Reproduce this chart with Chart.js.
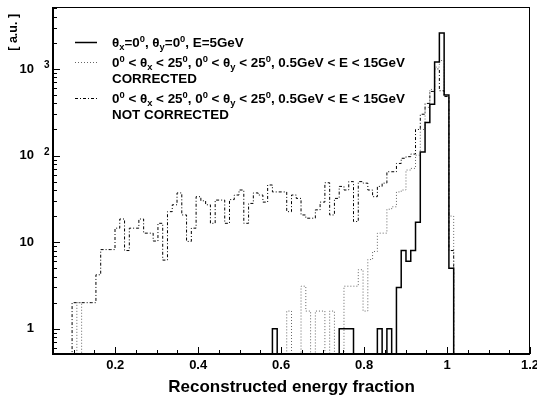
<!DOCTYPE html>
<html>
<head>
<meta charset="utf-8">
<script src="https://cdn.jsdelivr.net/npm/chart.js@4.4.0/dist/chart.umd.min.js"></script>
<style>
html, body { margin: 0; padding: 0; background: #fff; }
</style>
</head>
<body>
<canvas id="mycanvas" width="537" height="397"></canvas>
<script>
// histogram binning (as in the ROOT TH1: 100 bins from 0.05 to 1.2)
var histMin = 0.05;
var histMax = 1.2;
var nBins = 100;

// theta_x = theta_y = 0, E = 5 GeV
var solidCounts = [
	0, 0, 0, 0, 0, 0, 0, 0, 0, 0,
	0, 0, 0, 0, 0, 0, 0, 0, 0, 0,
	0, 0, 0, 0, 0, 0, 0, 0, 0, 0,
	0, 0, 0, 0, 0, 0, 0, 0, 0, 0,
	0, 0, 0, 0, 0, 0, 1, 0, 0, 0,
	0, 0, 0, 0, 0, 0, 0, 0, 0, 0,
	1, 1, 1, 0, 0, 0, 0, 0, 1, 0,
	1, 0, 3, 8, 6, 8, 17, 110, 240, 390,
	1200, 2600, 500, 5, 0, 0, 0, 0, 0, 0,
	0, 0, 0, 0, 0, 0, 0, 0, 0, 0
];

// random angles, CORRECTED
var correctedCounts = [
	0, 0, 0, 0, 0, 2, 0, 0, 0, 0,
	0, 0, 0, 0, 0, 0, 0, 0, 0, 0,
	0, 0, 0, 0, 0, 0, 0, 0, 0, 0,
	0, 0, 0, 0, 0, 0, 0, 0, 0, 0,
	0, 0, 0, 0, 0, 0, 0, 0, 0, 1.6,
	0, 0, 3.1, 1.6, 0, 1.6, 1.6, 0, 1.6, 0,
	0, 3.1, 3.1, 3.1, 4.8, 1.6, 6.3, 7.8, 12.7, 12.7,
	24, 25.6, 38, 40, 68, 71, 101, 200, 360, 580,
	1050, 1250, 480, 20, 0, 0, 0, 0, 0, 0,
	0, 0, 0, 0, 0, 0, 0, 0, 0, 0
];

// random angles, NOT CORRECTED
var notCorrectedCounts = [
	0, 0, 0, 0, 2, 2, 2, 2, 2, 4.2,
	8.2, 8.2, 8.2, 14.5, 18.5, 8, 14.5, 14.5, 18.5, 12.7,
	12.7, 10.3, 16.5, 6.2, 22.5, 27, 37, 20.6, 10.2, 14.5,
	33.5, 30, 27, 16.5, 30.6, 30.6, 16.5, 31, 35, 40,
	16.5, 28, 37, 35, 29, 45.7, 38, 38, 38, 22.5,
	35, 32, 20.6, 18.9, 18.9, 23.6, 29, 48.5, 20.6, 32,
	44, 40, 50, 17.3, 50, 48, 40, 33.5, 44, 48,
	65, 65, 81, 93, 97, 104, 200, 300, 400, 550,
	1000, 560, 480, 8, 0, 0, 0, 0, 0, 0,
	0, 0, 0, 0, 0, 0, 0, 0, 0, 0
];

var xTickValues = [0.2, 0.4, 0.6, 0.8, 1, 1.2];
var xTickText = ['0.2', '0.4', '0.6', '0.8', '1', '1.2'];
var yTickValues = [1, 10, 100, 1000];
var yTickText = ['1', '10', '10', '10'];
var yTickExp = ['', '', '2', '3'];
var yMin = 0.511;
var yMax = 5190;

var legendText = [
	['\u03B8_{x}=0^{0}, \u03B8_{y}=0^{0}, E=5GeV'],
	['0^{0} < \u03B8_{x} < 25^{0}, 0^{0} < \u03B8_{y} < 25^{0}, 0.5GeV < E < 15GeV', 'CORRECTED'],
	['0^{0} < \u03B8_{x} < 25^{0}, 0^{0} < \u03B8_{y} < 25^{0}, 0.5GeV < E < 15GeV', 'NOT CORRECTED']
];

var FONT = "'Liberation Sans', Arial, Helvetica, sans-serif";

function histPoints(counts) {
	var w = (histMax - histMin) / nBins;
	var pts = [];
	for (var i = 0; i < counts.length; i++) {
		pts.push({x: histMin + i * w, y: counts[i] > 0 ? counts[i] : yMin});
	}
	pts.push({x: histMax, y: yMin});
	return pts;
}

// small TLatex-like text: _{sub} and ^{sup}
function drawLatex(c, str, x, y, size) {
	var parts = str.split(/(_\{[^}]*\}|\^\{[^}]*\})/);
	for (var i = 0; i < parts.length; i++) {
		var p = parts[i];
		if (!p) continue;
		var dy = 0, s = size, t = p;
		if (p.charAt(0) == '_' && p.charAt(1) == '{') { t = p.slice(2, -1); s = size * 0.7; dy = 3.5; }
		else if (p.charAt(0) == '^' && p.charAt(1) == '{') { t = p.slice(2, -1); s = size * 0.7; dy = -5; }
		c.font = 'bold ' + s + 'px ' + FONT;
		c.fillText(t, x, y + dy);
		x += c.measureText(t).width;
	}
}

var rootFrame = {
	id: 'rootFrame',
	beforeDraw: function(chart) {
		var c = chart.ctx;
		c.save();
		c.fillStyle = '#fff';
		c.fillRect(0, 0, chart.width, chart.height);
		c.restore();
	},
	afterDraw: function(chart) {
		var c = chart.ctx, a = chart.chartArea;
		var xs = chart.scales.x, ys = chart.scales.y;
		c.save();
		c.strokeStyle = '#000';
		c.lineWidth = 1;
		c.strokeRect(a.left + 0.5, a.top + 0.5, a.right - a.left - 1, a.bottom - a.top - 1);
		c.lineWidth = 2;
		c.beginPath();
		c.moveTo(a.left, a.top);
		c.lineTo(a.left, a.bottom);
		c.lineTo(a.right, a.bottom);
		c.stroke();

		// ticks, ROOT style (inside the frame)
		c.lineWidth = 1;
		c.beginPath();
		for (var k = 1; k <= 24; k++) {
			var px = Math.round(xs.getPixelForValue(k * 0.05)) + 0.5;
			var len = (k % 4 == 0) ? 7 : 4;
			c.moveTo(px, a.bottom);
			c.lineTo(px, a.bottom - len);
		}
		for (var d = -1; d <= 3; d++) {
			for (var m = 1; m <= 9; m++) {
				var v = m * Math.pow(10, d);
				if (v < yMin || v > yMax) continue;
				var py = Math.round(ys.getPixelForValue(v)) + 0.5;
				c.moveTo(a.left, py);
				c.lineTo(a.left + (m == 1 ? 7 : 4), py);
			}
		}
		c.stroke();

		// exponents of the y labels
		c.fillStyle = '#000';
		c.textAlign = 'left';
		c.textBaseline = 'alphabetic';
		c.font = 'bold 10px ' + FONT;
		for (var e = 0; e < yTickValues.length; e++) {
			if (!yTickExp[e]) continue;
			c.fillText(yTickExp[e], a.left - 9, ys.getPixelForValue(yTickValues[e]) - 1);
		}

		// legend
		var rows = [42, 62, 98];
		for (var i = 0; i < legendText.length; i++) {
			var ds = chart.data.datasets[i];
			c.save();
			c.strokeStyle = ds.borderColor;
			c.lineWidth = ds.borderWidth;
			c.setLineDash(ds.borderDash || []);
			c.beginPath();
			c.moveTo(75, rows[i] + 0.5);
			c.lineTo(97, rows[i] + 0.5);
			c.stroke();
			c.restore();
			for (var j = 0; j < legendText[i].length; j++) {
				drawLatex(c, legendText[i][j], 112, rows[i] + 4.5 + j * 16, 13.4);
			}
		}
		c.restore();
	}
};

Chart.defaults.font.family = FONT;
Chart.defaults.color = '#000';

var ctx = document.getElementById('mycanvas');

var chart = new Chart(ctx, {
	type: 'line',
	data: {
		datasets: [
			{
				label: 'solid',
				data: histPoints(solidCounts),
				borderColor: '#000',
				borderWidth: 1.5,
				stepped: 'before'
			},
			{
				label: 'corrected',
				data: histPoints(correctedCounts),
				borderColor: '#666',
				borderWidth: 1,
				borderDash: [1, 2],
				stepped: 'before'
			},
			{
				label: 'not corrected',
				data: histPoints(notCorrectedCounts),
				borderColor: '#000',
				borderWidth: 1,
				borderDash: [3, 2, 1, 2],
				stepped: 'before'
			}
		]
	},
	options: {
		responsive: false,
		animation: false,
		devicePixelRatio: 1,
		layout: { padding: { top: 7, right: 7, left: 0, bottom: 0 } },
		elements: { point: { radius: 0 }, line: { tension: 0 } },
		plugins: {
			legend: { display: false },
			tooltip: { enabled: false }
		},
		scales: {
			x: {
				type: 'linear',
				min: histMin,
				max: histMax,
				grid: { display: false },
				border: { display: false },
				afterBuildTicks: function(s) {
					s.ticks = xTickValues.map(function(v) { return {value: v}; });
				},
				ticks: {
					autoSkip: false,
					maxRotation: 0,
					padding: -4,
					font: { size: 13, weight: 'bold' },
					callback: function(v, i) { return xTickText[i]; }
				},
				title: {
					display: true,
					text: 'Reconstructed energy fraction',
					font: { size: 17, weight: 'bold' },
					padding: { top: 0, bottom: -1 }
				},
				afterFit: function(s) {
					s.height = 43;
					s.paddingLeft = 0;
					s.paddingRight = 0;
				}
			},
			y: {
				type: 'logarithmic',
				min: yMin,
				max: yMax,
				grid: { display: false },
				border: { display: false },
				afterBuildTicks: function(s) {
					s.ticks = yTickValues.map(function(v) { return {value: v}; });
				},
				ticks: {
					autoSkip: false,
					padding: 11,
					font: { size: 13, weight: 'bold' },
					callback: function(v, i) { return yTickText[i]; }
				},
				title: {
					display: true,
					text: '[ a.u. ]  ',
					align: 'end',
					font: { size: 12.5, weight: 'bold' },
					padding: { top: 6, bottom: 0 }
				},
				afterFit: function(s) {
					s.width = 53;
					s.paddingTop = 0;
					s.paddingBottom = 0;
				}
			}
		}
	},
	plugins: [rootFrame]
});
</script>
</body>
</html>
